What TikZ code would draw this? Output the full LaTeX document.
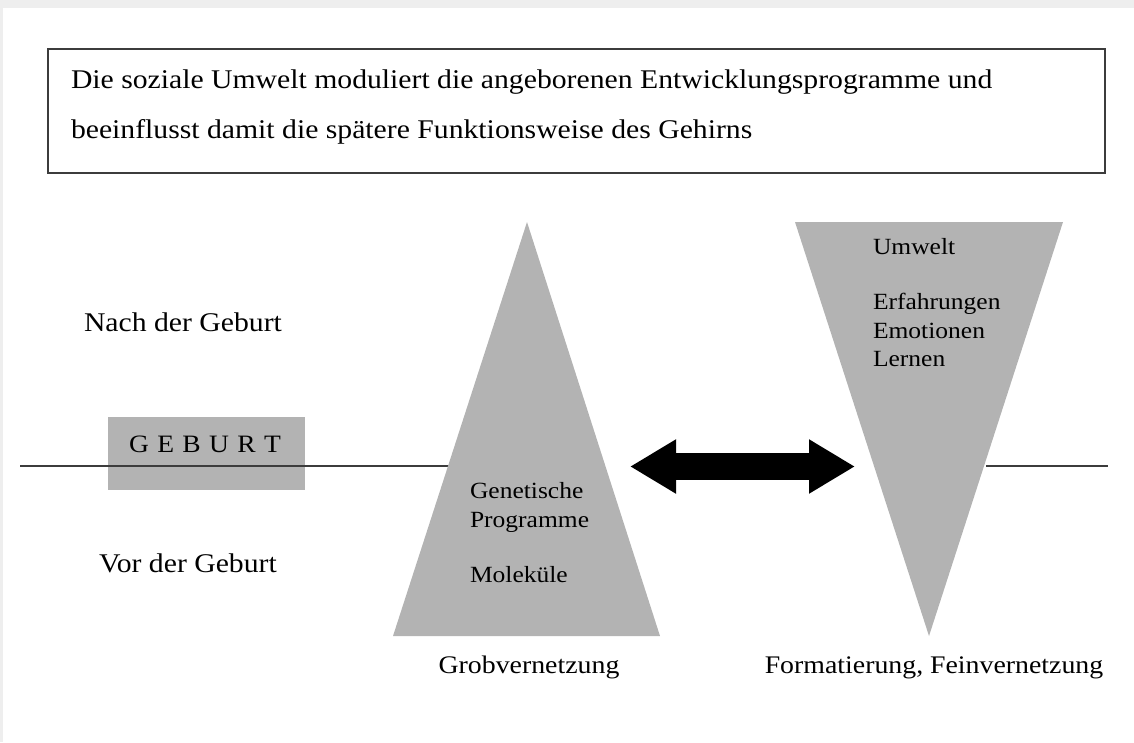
\documentclass[tikz,border=0pt]{standalone}
\usepackage{fontspec}
\setmainfont{Liberation Serif}[FakeStretch=1.1]
\usetikzlibrary{arrows.meta}
\definecolor{wedgegray}{RGB}{179,179,179}
\definecolor{framegray}{RGB}{238,238,238}
\definecolor{rulegray}{RGB}{60,60,60}

\begin{document}
\begin{tikzpicture}[
  x=1pt, y=-1pt,
  every node/.style={
    inner sep=0pt, outer sep=0pt,
    font=\fontsize{27}{32}\selectfont,
  },
  wedge/.style={fill=wedgegray, draw=none},
  small/.style={anchor=base west, font=\fontsize{23.2}{28}\selectfont},
  caption/.style={anchor=base, font=\fontsize{25.3}{30}\selectfont},
  big arrow/.style={
    line width=27pt,
    {Triangle[length=46pt,width=51pt]}-{Triangle[length=46pt,width=51pt]},
  },
]
  \useasboundingbox (0,0) rectangle (1134,742);
  \fill[framegray] (0,0) rectangle (1134,8);
  \fill[framegray] (0,0) rectangle (3,742);

  % header box
  \node[draw=rulegray, line width=1.5pt, minimum width=1057pt, minimum height=124pt]
    (head) at (576.5,111) {};
  \node[anchor=base west] (h1) at (71,88)
    {Die soziale Umwelt moduliert die angeborenen Entwicklungsprogramme und};
  \node[anchor=base west] (h2) at (71,138)
    {beeinflusst damit die spätere Funktionsweise des Gehirns};

  % birth line
  \node[fill=wedgegray, minimum width=197pt, minimum height=73pt] (birth) at (206.5,453.5) {};
  \node[anchor=base, font=\fontsize{25}{30}\selectfont] (birthtxt) at (205,452)
    {G\,\,E\,\,B\,\,U\,\,R\,\,T};
  \coordinate (L1) at (20,466);
  \coordinate (L2) at (452,466);
  \coordinate (R1) at (986,466);
  \coordinate (R2) at (1108,466);
  \draw[rulegray, line width=1.5pt] (L1) -- (L2) (R1) -- (R2);

  \node[anchor=base] (after) at (183,331) {Nach der Geburt};
  \node[anchor=base] (before) at (188,572) {Vor der Geburt};

  % triangles
  \coordinate (up) at (527,222);
  \coordinate (down) at (929,636);
  \fill[wedge] (up) -- (660,636) -- (393,636) -- cycle;
  \fill[wedge] (795,222) -- (1063,222) -- (down) -- cycle;

  \node[small] (gen) at (470,498) {Genetische};
  \node[small] (prog) at (470,527) {Programme};
  \node[small] (mol) at (470,582) {Moleküle};

  \node[small] (umw) at (873,254) {Umwelt};
  \node[small] (erf) at (873,309) {Erfahrungen};
  \node[small] (emo) at (873,338) {Emotionen};
  \node[small] (lern) at (873,366) {Lernen};

  \node[caption] (grob) at (529,673) {Grobvernetzung};
  \node[caption] (fein) at (934,673) {Formatierung, Feinvernetzung};

  % interaction
  \coordinate (A) at (630,466.5);
  \coordinate (B) at (855,466.5);
  \draw[big arrow] (A) -- (B);
\end{tikzpicture}
\end{document}
